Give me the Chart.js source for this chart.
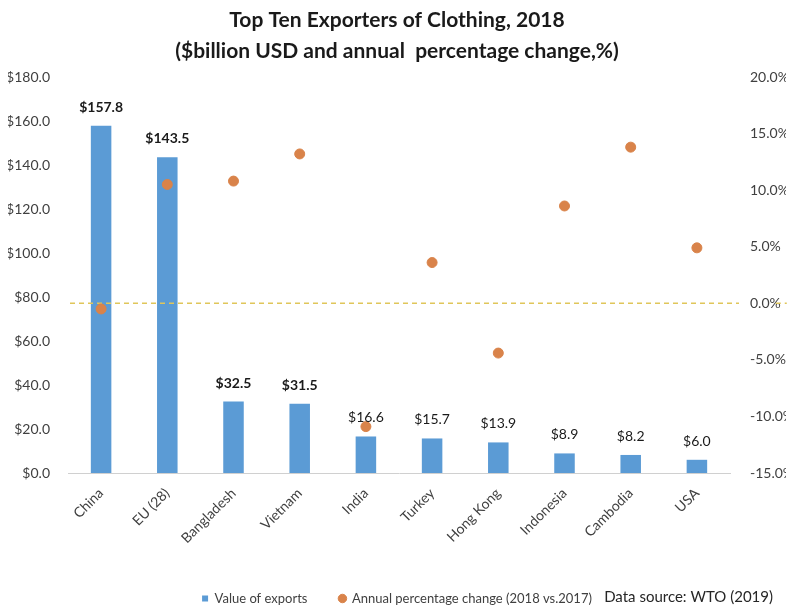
<!DOCTYPE html>
<html>
<head>
<meta charset="utf-8">
<script src="https://cdn.jsdelivr.net/npm/chart.js@4.4.1/dist/chart.umd.min.js"></script>
<style>
  html, body { margin: 0; padding: 0; background: #ffffff; }
  #wrap { width: 790px; height: 607px; position: relative; }
</style>
</head>
<body>
<div id="wrap"><canvas id="chart" width="790" height="607"></canvas></div>
<script>
// Clothing exports by economy, 2018
const categories = ['China', 'EU (28)', 'Bangladesh', 'Vietnam', 'India', 'Turkey', 'Hong Kong', 'Indonesia', 'Cambodia', 'USA'];
const exportValues = [157.8, 143.5, 32.5, 31.5, 16.6, 15.7, 13.9, 8.9, 8.2, 6.0];   // $ billion USD
const percentChange = [-0.5, 10.5, 10.8, 13.2, -10.9, 3.6, -4.4, 8.6, 13.8, 4.9];   // % change 2018 vs 2017
const valueAxisTicks = { min: 0, max: 180, step: 20 };
const changeAxisTicks = { min: -15, max: 20, step: 5 };
const boldLabelCount = 4;

const FONT = 'Lato, "Open Sans", sans-serif';
const TICK_FONT = '14px ' + FONT;
const RIGHT_TICK_PAD = 12;

const fmtPercent = v => Number(v).toFixed(1) + '%';

// Value labels above each bar
const barLabels = {
  id: 'barLabels',
  afterDatasetsDraw(chart) {
    const meta = chart.getDatasetMeta(0);
    const ctx = chart.ctx;
    ctx.save();
    ctx.textAlign = 'center';
    ctx.textBaseline = 'alphabetic';
    ctx.fillStyle = '#1a1a1a';
    meta.data.forEach((bar, i) => {
      ctx.font = (i < boldLabelCount ? 'bold ' : '') + '14px ' + FONT;
      ctx.fillText('$' + exportValues[i].toFixed(1), bar.x, bar.y - 14);
    });
    ctx.restore();
  }
};

// Dashed reference line at 0% on the change axis, over the bars and under the dots;
// it runs on past the plot and breaks around the 0.0% tick label
const zeroLine = {
  id: 'zeroLine',
  afterDatasetDraw(chart, args) {
    if (args.index !== 0) return;
    const axis = chart.scales.y1;
    const y = axis.getPixelForValue(0);
    const area = chart.chartArea;
    const ctx = chart.ctx;
    ctx.save();
    ctx.font = TICK_FONT;
    const labelStart = axis.left + RIGHT_TICK_PAD;
    const labelEnd = labelStart + ctx.measureText(fmtPercent(0)).width;
    ctx.strokeStyle = '#e0c65a';
    ctx.lineWidth = 1.5;
    ctx.setLineDash([5, 4]);
    ctx.beginPath();
    ctx.moveTo(area.left + 2, y);
    ctx.lineTo(labelStart - 3, y);
    ctx.moveTo(labelEnd + 3, y);
    ctx.lineTo(labelEnd + 14, y);
    ctx.stroke();
    ctx.restore();
  }
};

// Source note next to the legend
const sourceNote = {
  id: 'sourceNote',
  afterDraw(chart) {
    const ctx = chart.ctx;
    const item = chart.legend.legendHitBoxes[0];
    ctx.save();
    ctx.font = '15px ' + FONT;
    ctx.fillStyle = '#262626';
    ctx.textAlign = 'right';
    ctx.textBaseline = 'middle';
    ctx.fillText('Data source: WTO (2019)', 773, item.top + item.height / 2 - 1);
    ctx.restore();
  }
};

new Chart(document.getElementById('chart'), {
  data: {
    labels: categories,
    datasets: [
      {
        type: 'bar',
        label: 'Value of exports',
        data: exportValues,
        yAxisID: 'y',
        backgroundColor: '#5b9bd5',
        barPercentage: 0.31,
        categoryPercentage: 1.0,
        order: 2
      },
      {
        type: 'line',
        label: 'Annual percentage change (2018 vs.2017)',
        data: percentChange,
        yAxisID: 'y1',
        showLine: false,
        pointRadius: 5,
        pointStyle: 'circle',
        pointBackgroundColor: '#d9834a',
        pointBorderColor: '#d9834a',
        backgroundColor: '#d9834a',
        borderColor: '#d9834a',
        order: 1
      }
    ]
  },
  options: {
    responsive: false,
    animation: false,
    layout: { padding: { left: 8, right: 4, top: 2, bottom: -8 } },
    plugins: {
      title: {
        display: true,
        text: ['Top Ten Exporters of Clothing, 2018', '($billion USD and annual  percentage change,%)'],
        font: { family: FONT, size: 21, weight: 'bold', lineHeight: 1.5 },
        color: '#1a1a1a',
        padding: { top: 2, bottom: 10 }
      },
      legend: {
        position: 'bottom',
        align: 'center',
        labels: {
          font: { family: FONT, size: 13 },
          color: '#404040',
          usePointStyle: true,
          boxWidth: 6,
          boxHeight: 6,
          padding: 32,
          sort: (a, b) => a.datasetIndex - b.datasetIndex,
          generateLabels(chart) {
            const items = Chart.defaults.plugins.legend.labels.generateLabels(chart);
            items.forEach(item => {
              item.pointStyle = item.datasetIndex === 0 ? 'rect' : 'circle';
            });
            return items;
          }
        },
        onClick: null
      },
      tooltip: { enabled: false }
    },
    scales: {
      x: {
        offset: true,
        grid: { display: false },
        border: { display: true, color: '#d0d0d0', width: 1 },
        ticks: {
          font: { family: FONT, size: 14 },
          color: '#404040',
          minRotation: 45,
          maxRotation: 45,
          padding: 4
        },
        afterFit(scale) { scale.height = 87; }
      },
      y: {
        position: 'left',
        min: valueAxisTicks.min,
        max: valueAxisTicks.max,
        grid: { display: false },
        border: { display: false },
        ticks: {
          stepSize: valueAxisTicks.step,
          font: { family: FONT, size: 14 },
          color: '#404040',
          padding: 10,
          callback: v => '$' + Number(v).toFixed(1)
        },
        afterFit(scale) { scale.width = 60; }
      },
      y1: {
        position: 'right',
        min: changeAxisTicks.min,
        max: changeAxisTicks.max,
        grid: { display: false },
        border: { display: false },
        ticks: {
          stepSize: changeAxisTicks.step,
          font: { family: FONT, size: 14 },
          color: '#404040',
          padding: RIGHT_TICK_PAD,
          callback: fmtPercent
        },
        afterFit(scale) { scale.width = 56; }
      }
    }
  },
  plugins: [zeroLine, barLabels, sourceNote]
});
</script>
</body>
</html>
